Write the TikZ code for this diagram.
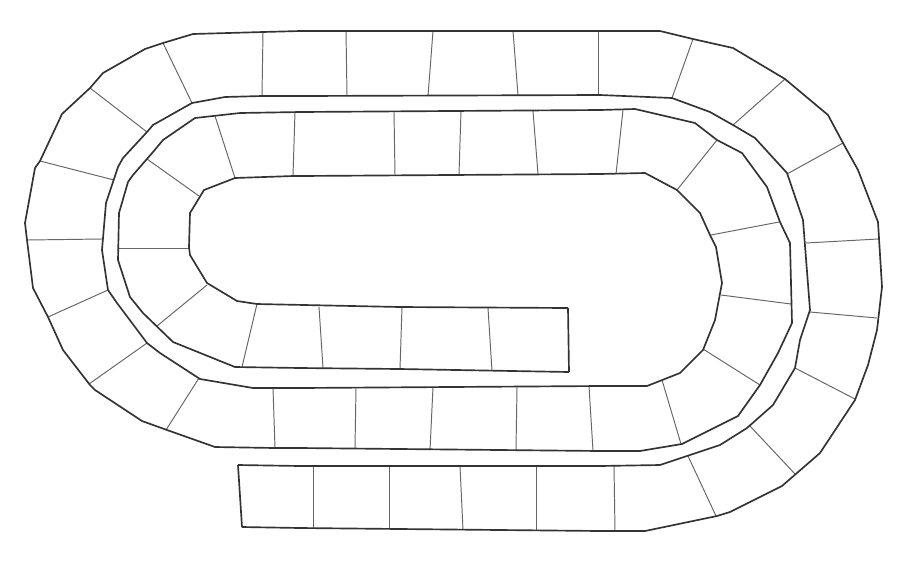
\documentclass[tikz,border=0pt]{standalone}
\begin{document}
\begin{tikzpicture}[x=0.2mm,y=-0.2mm,
  edge/.style={draw=black!80,line width=0.95pt,line join=round},
  divider/.style={draw=black!60,line width=0.55pt},
  endcap/.style={draw=black!80,line width=0.95pt}]
\useasboundingbox[fill=white] (0,0) rectangle (900,563);
% dividers
\foreach \xa/\ya/\xb/\yb in {
  313/466/313/528, 389/466/389/529, 460/466/463/530, 536/466/536/530, 614/466/615/531,
  688/456/716/516, 750/426/795/474, 795/368/855/399, 810/312/877/318, 806/243/878/239,
  787/174/843/143, 733/125/785/79, 672/98/693/39, 598/95/598/31, 518/95/513/31,
  428/96/433/31, 347/96/346/31, 262/96/263/32, 192/103/163/43, 147/132/90/88,
  114/180/40/161, 102/239/27/240, 108/290/48/317, 147/343/89/384, 199/378/166/430,
  273/388/275/448, 356/388/355/448, 433/387/430/450, 517/387/516/450, 589/386/593/451,
  662/380/681/444, 703/349/760/385, 721/295/791/304, 711/235/779/222, 677/190/717/140,
  616/174/623/110, 538/174/533/111, 459/175/461/111, 395/175/394/112, 293/176/295/112,
  235/178/215/116, 199/196/147/159, 189/248/118/248, 207/285/157/326, 257/304/242/367,
  319/307/323/368, 402/307/400/369, 488/308/492/371}
  \draw[divider] (\xa,\ya) -- (\xb,\yb);
% outer edge of the track (spiral)
\coordinate (os) at (242,527);
\coordinate (oe) at (569,372);
\draw[edge] (os) -- (300,528) -- (600,531) -- (645,531) -- (717,516) -- (730,512)
  -- (782,486) -- (820,453) -- (855,400) -- (868,365) -- (877,330) -- (882,287)
  -- (878,222) -- (858,170) -- (843,143) -- (828,115) -- (785,79) -- (733,48)
  -- (693,39) -- (660,31) -- (600,31) -- (300,31) -- (263,32) -- (193,34)
  -- (163,43) -- (145,49) -- (103,73) -- (90,88) -- (62,114) -- (40,161)
  -- (35,168) -- (25,223) -- (27,240) -- (33,288) -- (48,317) -- (63,350)
  -- (90,385) -- (95,390) -- (142,421) -- (167,430) -- (215,447) -- (275,448)
  -- (300,448) -- (600,451) -- (640,451) -- (682,444) -- (738,416) -- (760,385)
  -- (778,353) -- (792,323) -- (790,243) -- (780,222) -- (767,187) -- (742,153)
  -- (717,140) -- (695,123) -- (635,109) -- (600,110) -- (300,112) -- (240,113)
  -- (195,118) -- (163,140) -- (153,152) -- (133,175) -- (128,182) -- (119,213)
  -- (118,260) -- (130,297) -- (143,313) -- (173,342) -- (235,367) -- (300,368)
  -- (400,369) -- (oe);
% inner edge of the track (spiral)
\coordinate (is) at (238,465);
\coordinate (ie) at (568,308);
\draw[edge] (is) -- (300,466) -- (600,466) -- (660,465) -- (720,445) -- (747,428)
  -- (773,405) -- (795,368) -- (800,340) -- (810,310) -- (803,220) -- (787,173)
  -- (755,138) -- (733,125) -- (710,112) -- (672,98) -- (600,95) -- (300,96)
  -- (262,96) -- (225,97) -- (192,103) -- (153,125) -- (147,132) -- (123,158)
  -- (118,167) -- (106,203) -- (102,250) -- (108,290) -- (117,303) -- (147,343)
  -- (160,353) -- (200,379) -- (253,388) -- (300,388) -- (600,386) -- (647,386)
  -- (680,373) -- (703,350) -- (715,320) -- (722,283) -- (716,247) -- (710,235)
  -- (700,213) -- (677,190) -- (645,173) -- (600,174) -- (300,176) -- (293,176)
  -- (235,178) -- (204,190) -- (190,213) -- (189,247) -- (190,255) -- (207,283)
  -- (237,301) -- (257,304) -- (400,307) -- (ie);
% end caps
\draw[endcap] (is) -- (os);
\draw[endcap] (ie) -- (oe);
\end{tikzpicture}
\end{document}
